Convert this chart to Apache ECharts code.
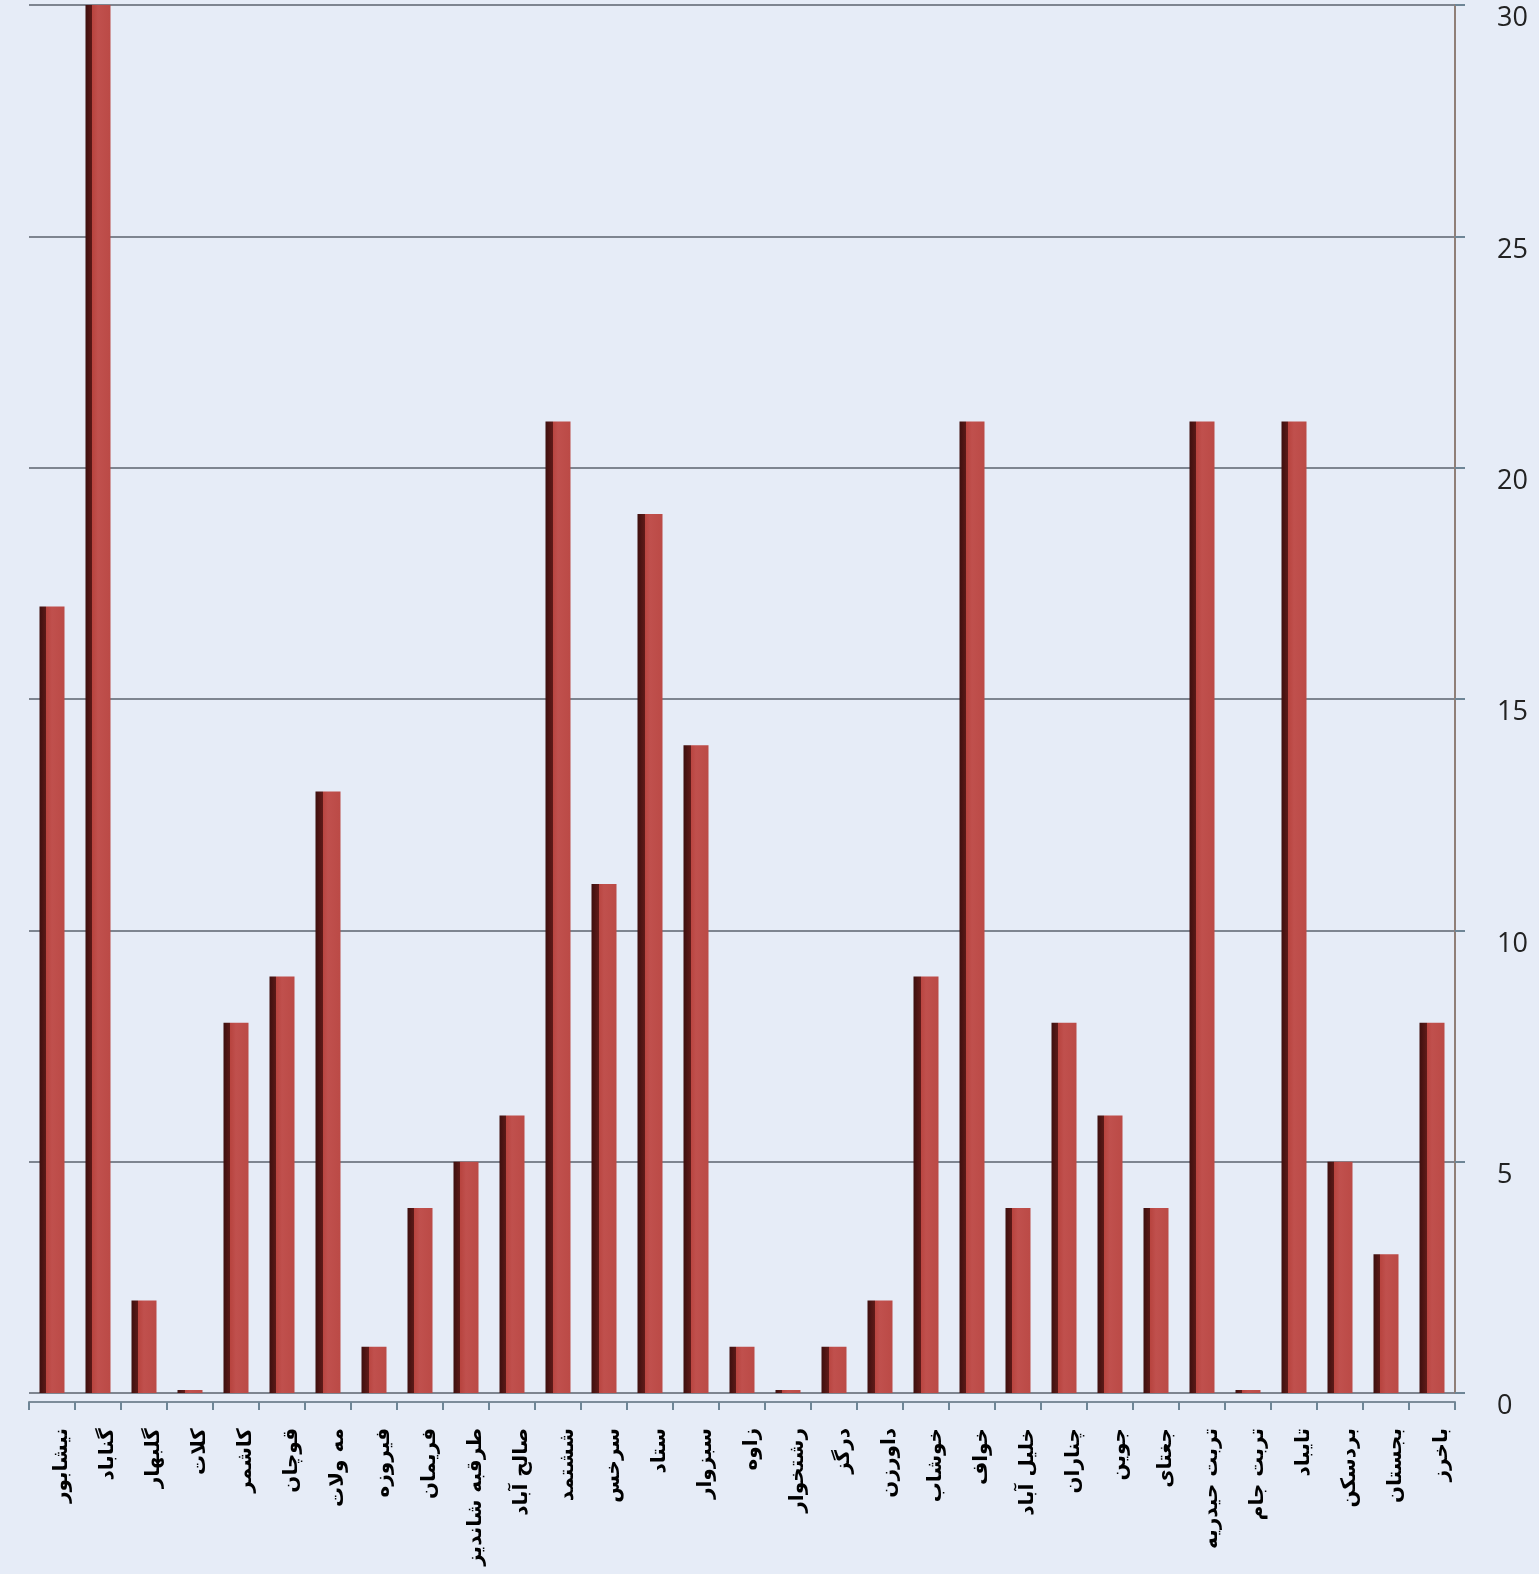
<!DOCTYPE html>
<html>
<head>
<meta charset="utf-8">
<script src="https://cdn.jsdelivr.net/npm/echarts@6/dist/echarts.min.js"></script>
<style>
html,body{margin:0;padding:0;background:#e6ecf7;}
#chart{width:1539px;height:1574px;}
</style>
</head>
<body>
<div id="chart"></div>
<script>
const categories = ['نیشابور','گناباد','گلبهار','کلات','کاشمر','قوچان','مه ولات','فیروزه','فریمان','طرقبه شاندیز','صالح آباد','ششتمد','سرخس','ستاد','سبزوار','زاوه','رشتخوار','درگز','داورزن','خوشاب','خواف','خلیل آباد','چناران','جوین','جغتای','تربت حیدریه','تربت جام','تایباد','بردسکن','بجستان','باخرز'];
const values = [17,30,2,0,8,9,13,1,4,5,6,21,11,19,14,1,0,1,2,9,21,4,8,6,4,21,0,21,5,3,8];
const yTicks = {min:0, max:30, interval:5};

const chart = echarts.init(document.getElementById('chart'), null, {renderer:'canvas'});
chart.setOption({
  backgroundColor:'#e6ecf7',
  animation:false,
  grid:{left:29, right:84, top:5, bottom:181, containLabel:false, outerBoundsMode:'none'},
  xAxis:{
    type:'category',
    data:categories,
    offset:9,
    axisLine:{show:true, onZero:false, lineStyle:{color:'#7d8c9a', width:2}},
    axisTick:{show:true, length:8, lineStyle:{color:'#6e8596', width:2}},
    axisLabel:{rotate:90, interval:0, margin:26, fontSize:20, fontFamily:'DejaVu Sans', color:'#000', fontWeight:'bold', verticalAlign:'top'},
    splitLine:{show:false}
  },
  yAxis:{
    type:'value',
    position:'right',
    min:yTicks.min, max:yTicks.max, interval:yTicks.interval,
    axisLine:{show:true, onZero:false, lineStyle:{color:'#8f7f78', width:2}},
    axisTick:{show:true, length:10, lineStyle:{color:'#6e8596', width:2}},
    axisLabel:{margin:42, fontSize:27, fontFamily:'Open Sans', color:'#222', verticalAlign:'top', lineHeight:27},
    splitLine:{show:true, lineStyle:{color:'#7e8590', width:2}}
  },
  series:[{
    type:'bar',
    data:values,
    barWidth:25,
    barMinHeight:3,
    itemStyle:{
      color:new echarts.graphic.LinearGradient(0,0,1,0,[
        {offset:0,color:'#3e0f0e'},
        {offset:0.28,color:'#5e1a18'},
        {offset:0.28,color:'#b8443f'},
        {offset:0.5,color:'#c0504d'},
        {offset:1,color:'#bb4a46'}
      ])
    }
  }]
});
</script>
</body>
</html>
